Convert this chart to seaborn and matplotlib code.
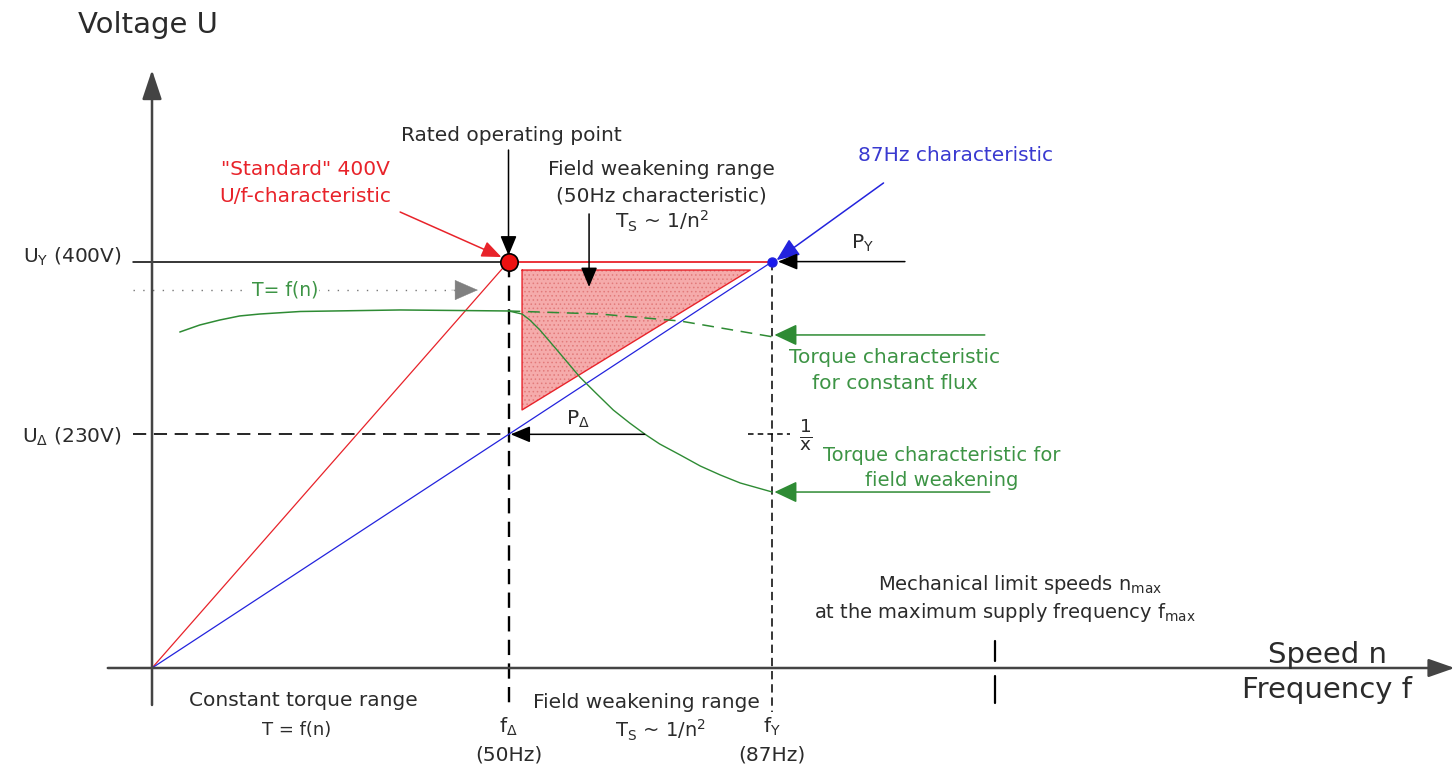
import numpy as np
import pandas as pd
import seaborn as sns
import matplotlib.pyplot as plt

# Kennwerte (Frequenz in Hz, Spannung in V)
F_DELTA = 50
F_Y = 87
F_MAX = 118.2
U_DELTA = 230
U_Y = 400

# U/f-Kennlinien
std_f = [0, F_DELTA]
std_u = [0, U_Y]
k87_f = [0, F_Y]
k87_u = [0, U_Y]

# Drehmomentkennlinien (im Spannungsmaßstab gezeichnet)
flux_f = [3.9, 6.7, 9.5, 12.3, 15.1, 20.8, 34.8, 50]
flux_t = [330.7, 337.6, 342.5, 346.5, 348.4, 350.9, 352.4, 351.4]
flux2_f = [50, 62.8, 74.1, 87]
flux2_t = [351.4, 348.4, 341.5, 326]
weak_f = [50, 51.9, 53.0, 54.4, 56.8, 60.0, 62.1, 64.7, 67.0, 69.1, 71.2, 74.1, 76.9, 79.7, 82.5, 87]
weak_t = [351.4, 348.4, 342.5, 332.7, 313.0, 286.4, 271.7, 253.9, 241.1, 230.3, 220.5, 209.6,
          198.8, 190.0, 182.1, 173.2]

# Feldschwächbereich (Dreieck)
tri_f = [51.9, 83.9, 51.9]
tri_u = [391.7, 391.7, 254]

RED = "#e8232a"
BLUE = "#2323dd"
GREEN = "#2e8b34"
GREEN_T = "#3d9445"
DARK = "#2b2b2b"

sns.set_theme(style="white")
plt.rcParams["font.family"] = ["DejaVu Sans"]
plt.rcParams["lines.scale_dashes"] = False
plt.rcParams["hatch.linewidth"] = 0.6

fig = plt.figure(figsize=(14.55, 7.74), dpi=100)
ax = fig.add_axes([0, 0, 1, 1])
ax.set_xlim(-21.32, 182.75)
ax.set_ylim(-104.33, 657.48)
ax.axis("off")


def arrow(tail, tip, color="black", lw=1.1, hl=0.6, hw=0.25, ms=20):
    ax.annotate("", xy=tip, xytext=tail,
                arrowprops=dict(arrowstyle=f"-|>,head_length={hl},head_width={hw}",
                                color=color, lw=lw, shrinkA=0, shrinkB=0,
                                mutation_scale=ms))


# Achsen
arrow((0, -36.4), (0, 588.6), color="#444444", lw=1.8, hl=0.9, hw=0.3)
arrow((-6.2, 0), (182.7, 0), color="#444444", lw=1.8, hl=0.8, hw=0.28)

# Hilfslinien
ax.plot([-2.66, F_DELTA], [U_Y, U_Y], color="black", lw=1.1)
ax.plot([F_DELTA, F_Y], [U_Y, U_Y], color=RED, lw=1.3)
ax.plot([-2.66, F_DELTA], [U_DELTA, U_DELTA], color="black", lw=1.2, linestyle=(0, (9.5, 5.5)))
ax.plot([F_DELTA, F_DELTA], [U_Y, -36], color="black", lw=1.7, linestyle=(0, (11, 6)))
ax.plot([F_Y, F_Y], [U_Y, -43], color="black", lw=1.1, linestyle=(0, (6, 3.5)))
ax.plot([83.6, 89.5], [U_DELTA, U_DELTA], color="black", lw=1.1, linestyle=(0, (4, 3)))
ax.plot([F_MAX, F_MAX], [26.6, 6.9], color="black", lw=1.6)
ax.plot([F_MAX, F_MAX], [-7.9, -34.4], color="black", lw=1.6)

# Feldschwächbereich
ax.fill(tri_f, tri_u, facecolor="#f5abab", edgecolor="#e27a7a", hatch="....", linewidth=0)
ax.plot(tri_f + [tri_f[0]], tri_u + [tri_u[0]], color=RED, lw=1.0)

# U/f-Kennlinien
sns.lineplot(x=std_f, y=std_u, ax=ax, color=RED, lw=0.9)
sns.lineplot(x=k87_f, y=k87_u, ax=ax, color=BLUE, lw=0.9)

# Drehmoment
sns.lineplot(x=flux_f, y=flux_t, ax=ax, color=GREEN, lw=1.1)
sns.lineplot(x=flux2_f, y=flux2_t, ax=ax, color=GREEN, lw=1.1, linestyle=(0, (8.5, 5.5)))
sns.lineplot(x=weak_f, y=weak_t, ax=ax, color=GREEN, lw=1.0)

# Punkte
ax.plot([F_DELTA], [U_Y], "o", ms=12.5, mfc="#ee1111", mec="black", mew=1.2, zorder=5)
ax.plot([F_Y], [U_Y], "o", ms=6.5, mfc="#1a1aee", mec=BLUE, zorder=5)

# T = f(n) gepunktet
ax.plot([-2.66, 42.9], [372, 372], color="#777777", lw=1.0, linestyle=(0, (1, 6)))
arrow((42.0, 372), (45.7, 372), color="#808080", lw=0.3, hl=0.8, hw=0.35)
ax.text(18.65, 372, "T= f(n)", color=GREEN_T, fontsize=13.5, ha="center", va="center",
        bbox=dict(facecolor="white", edgecolor="none", pad=1))

# Pfeile
arrow((50, 509.8), (50, 406))
arrow((34.8, 448.8), (49.0, 404.5), color=RED, lw=1.1)
arrow((61.3, 446.9), (61.3, 375))
arrow((102.6, 477.4), (87.6, 401.5), color=BLUE, lw=1.1, hl=0.7, hw=0.3)
arrow((105.6, 400), (87.8, 400))
arrow((69.1, U_DELTA), (50.3, U_DELTA))
arrow((116.8, 327.8), (87.3, 327.8), color=GREEN, lw=1.1, hl=0.7, hw=0.33)
arrow((117.5, 173.2), (87.3, 173.2), color=GREEN, lw=1.1, hl=0.7, hw=0.33)

# Texte
ax.text(-10.38, 632.9, "Voltage U", fontsize=21, color=DARK, ha="left", va="center")
ax.text(164.9, 12.8, "Speed n", fontsize=21, color=DARK, ha="center", va="center")
ax.text(164.8, -21.7, "Frequency f", fontsize=21, color=DARK, ha="center", va="center")

ax.text(-4.2, 404.5, r"U$_\mathrm{Y}$ (400V)", fontsize=14.5, color=DARK, ha="right", va="center")
ax.text(-4.2, 227.4, r"U$_\Delta$ (230V)", fontsize=14.5, color=DARK, ha="right", va="center")
ax.text(99.6, 418, r"P$_\mathrm{Y}$", fontsize=14.5, color=DARK, ha="center", va="center")
ax.text(59.7, 245, r"P$_\Delta$", fontsize=14.5, color=DARK, ha="center", va="center")
ax.text(91.7, 229.3, r"$\mathrm{\frac{1}{x}}$", fontsize=19, color=DARK, ha="center", va="center")

ax.text(50.35, 524.6, "Rated operating point", fontsize=14.5, color=DARK, ha="center", va="center")
ax.text(21.46, 490.2, "\"Standard\" 400V", fontsize=14.5, color=RED, ha="center", va="center")
ax.text(21.46, 463.6, "U/f-characteristic", fontsize=14.5, color=RED, ha="center", va="center")
ax.text(71.5, 490.2, "Field weakening range", fontsize=14.5, color=DARK, ha="center", va="center")
ax.text(71.5, 464.6, "(50Hz characteristic)", fontsize=14.5, color=DARK, ha="center", va="center")
ax.text(71.5, 440, r"T$_\mathrm{S}$ ~ 1/n$^2$", fontsize=14.5, color=DARK, ha="center", va="center")
ax.text(99.0, 504.9, "87Hz characteristic", fontsize=14.5, color="#3a3ad0", ha="left", va="center")

ax.text(104.2, 306.1, "Torque characteristic", fontsize=14.5, color=GREEN_T, ha="center", va="center")
ax.text(104.2, 280.5, "for constant flux", fontsize=14.5, color=GREEN_T, ha="center", va="center")
ax.text(110.8, 209.6, "Torque characteristic for", fontsize=14, color=GREEN_T, ha="center", va="center")
ax.text(110.8, 184.1, "field weakening", fontsize=14, color=GREEN_T, ha="center", va="center")

ax.text(21.2, -31.5, "Constant torque range", fontsize=14.5, color=DARK, ha="center", va="center")
ax.text(20.3, -61, "T = f(n)", fontsize=13, color=DARK, ha="center", va="center")
ax.text(F_DELTA, -58, r"f$_\Delta$", fontsize=14.5, color=DARK, ha="center", va="center")
ax.text(F_DELTA, -85.6, "(50Hz)", fontsize=14.5, color=DARK, ha="center", va="center")
ax.text(69.3, -33.5, "Field weakening range", fontsize=14.5, color=DARK, ha="center", va="center")
ax.text(71.25, -61, r"T$_\mathrm{S}$ ~ 1/n$^2$", fontsize=14, color=DARK, ha="center", va="center")
ax.text(F_Y, -58, r"f$_\mathrm{Y}$", fontsize=14.5, color=DARK, ha="center", va="center")
ax.text(F_Y, -85.6, "(87Hz)", fontsize=14.5, color=DARK, ha="center", va="center")

ax.text(121.7, 81.7, r"Mechanical limit speeds n$_\mathrm{max}$", fontsize=14, color=DARK,
        ha="center", va="center")
ax.text(119.6, 55.1, r"at the maximum supply frequency f$_\mathrm{max}$", fontsize=14, color=DARK,
        ha="center", va="center")

fig.savefig("out.png", dpi=100)
